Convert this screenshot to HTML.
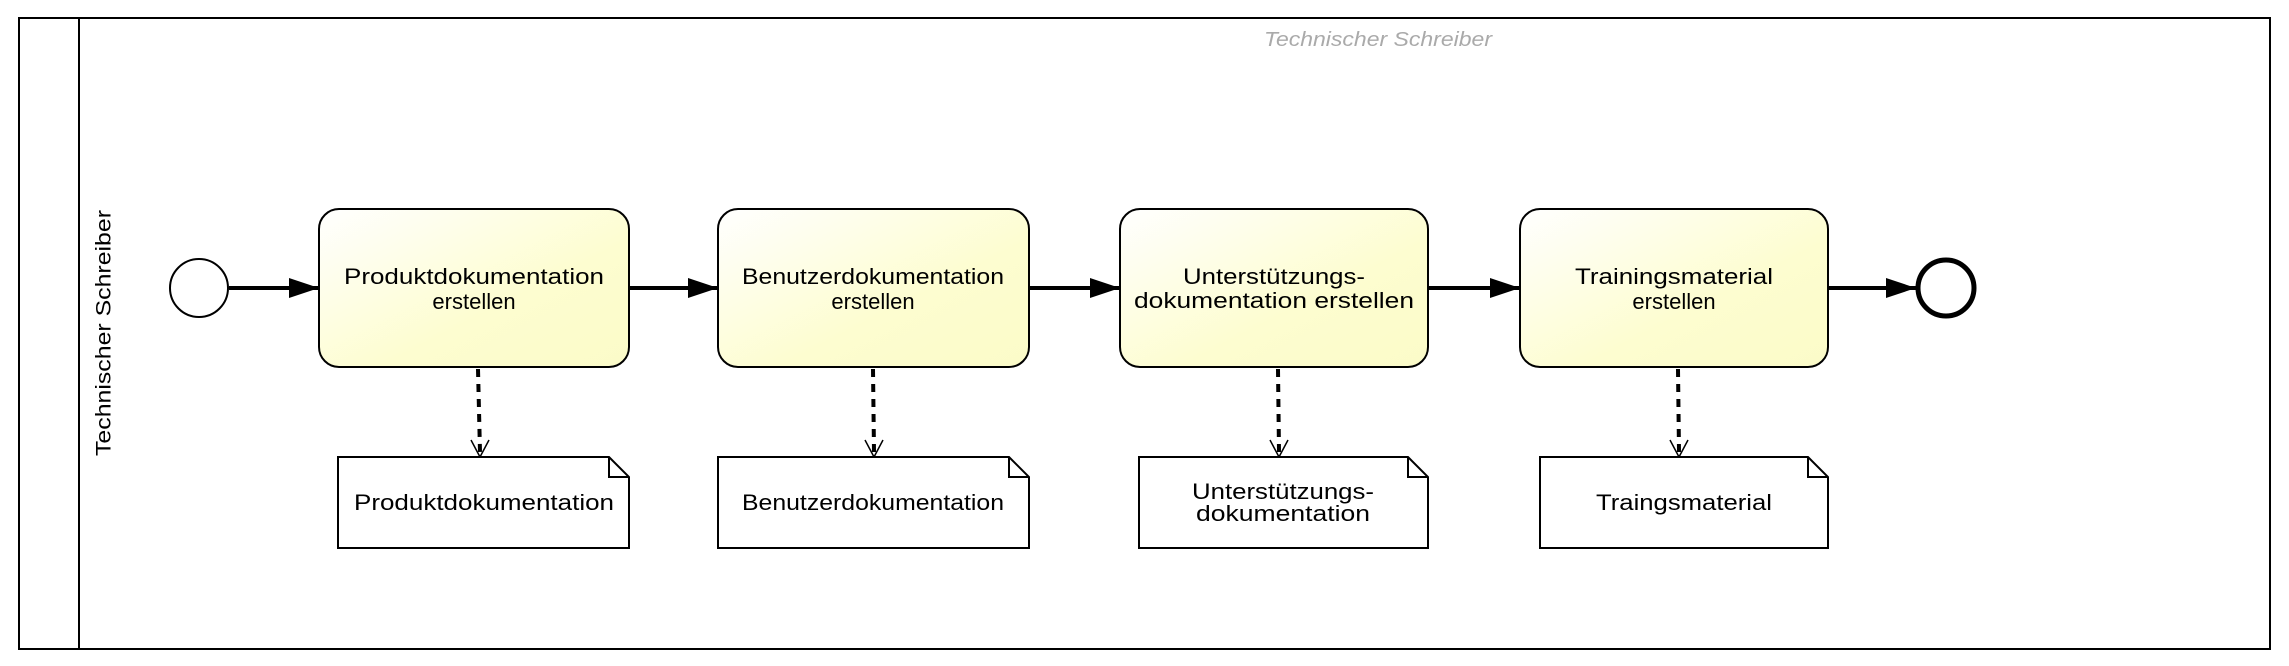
<!DOCTYPE html>
<html><head><meta charset="utf-8"><style>
html,body{margin:0;padding:0;background:#fff;}
svg{display:block;}
text{font-family:"Liberation Sans",sans-serif;}
</style></head><body>
<svg width="2289" height="666" viewBox="0 0 2289 666" xmlns="http://www.w3.org/2000/svg">
<defs>
<linearGradient id="g" x1="0" y1="0" x2="1" y2="1">
<stop offset="0" stop-color="#ffffff"/><stop offset="0.6" stop-color="#fdfdd0"/><stop offset="1" stop-color="#fbfbc8"/>
</linearGradient>
<marker id="ah" markerWidth="30" markerHeight="20" refX="30" refY="10" orient="auto" markerUnits="userSpaceOnUse">
<path d="M0,0 L30,10 L0,20 Z" fill="#000"/></marker>
</defs>
<rect x="19" y="18" width="2251" height="631" fill="#fff" stroke="#000" stroke-width="2"/>
<line x1="79" y1="18" x2="79" y2="649" stroke="#000" stroke-width="2"/>
<text x="105" y="333" font-size="21" text-anchor="middle" transform="rotate(-90 105 333)" dominant-baseline="middle" textLength="246" lengthAdjust="spacingAndGlyphs">Technischer Schreiber</text>
<text x="1378" y="46" font-size="20" font-style="italic" fill="#aaa" text-anchor="middle" textLength="228" lengthAdjust="spacingAndGlyphs">Technischer Schreiber</text>

<circle cx="199" cy="288" r="29" fill="#fff" stroke="#000" stroke-width="2"/>
<circle cx="1946" cy="288" r="28" fill="#fff" stroke="#000" stroke-width="5"/>

<g stroke="#000" stroke-width="4" fill="none">
<line x1="229" y1="288" x2="319" y2="288" marker-end="url(#ah)"/>
<line x1="629" y1="288" x2="718" y2="288" marker-end="url(#ah)"/>
<line x1="1029" y1="288" x2="1120" y2="288" marker-end="url(#ah)"/>
<line x1="1428" y1="288" x2="1520" y2="288" marker-end="url(#ah)"/>
<line x1="1828" y1="288" x2="1916" y2="288" marker-end="url(#ah)"/>
</g>

<g fill="url(#g)" stroke="#000" stroke-width="2">
<rect x="319" y="209" width="310" height="158" rx="20"/>
<rect x="718" y="209" width="311" height="158" rx="20"/>
<rect x="1120" y="209" width="308" height="158" rx="20"/>
<rect x="1520" y="209" width="308" height="158" rx="20"/>
</g>
<g font-size="22" text-anchor="middle">
<text x="474" y="284" textLength="260" lengthAdjust="spacingAndGlyphs">Produktdokumentation</text>
<text x="474" y="309">erstellen</text>
<text x="873" y="284" textLength="262" lengthAdjust="spacingAndGlyphs">Benutzerdokumentation</text>
<text x="873" y="309">erstellen</text>
<text x="1274" y="284" textLength="182" lengthAdjust="spacingAndGlyphs">Unterstützungs-</text>
<text x="1274" y="308" textLength="280" lengthAdjust="spacingAndGlyphs">dokumentation erstellen</text>
<text x="1674" y="284" textLength="198" lengthAdjust="spacingAndGlyphs">Trainingsmaterial</text>
<text x="1674" y="309">erstellen</text>
</g>

<g stroke="#000" stroke-width="4" stroke-dasharray="8,7" fill="none">
<line x1="478" y1="369" x2="480" y2="452"/>
<line x1="873" y1="369" x2="874" y2="452"/>
<line x1="1278" y1="369" x2="1279" y2="452"/>
<line x1="1678" y1="369" x2="1679" y2="452"/>
</g>
<g stroke="#000" stroke-width="1.5" fill="none">
<path d="M471,440 L480,457 L489,440"/>
<path d="M865,440 L874,457 L883,440"/>
<path d="M1270,440 L1279,457 L1288,440"/>
<path d="M1670,440 L1679,457 L1688,440"/>
</g>

<g fill="#fff" stroke="#000" stroke-width="2">
<path d="M338,457 H609 L629,477 V548 H338 Z"/><path d="M609,457 V477 H629" fill="none"/>
<path d="M718,457 H1009 L1029,477 V548 H718 Z"/><path d="M1009,457 V477 H1029" fill="none"/>
<path d="M1139,457 H1408 L1428,477 V548 H1139 Z"/><path d="M1408,457 V477 H1428" fill="none"/>
<path d="M1540,457 H1808 L1828,477 V548 H1540 Z"/><path d="M1808,457 V477 H1828" fill="none"/>
</g>
<g font-size="22" text-anchor="middle">
<text x="484" y="510" textLength="260" lengthAdjust="spacingAndGlyphs">Produktdokumentation</text>
<text x="873" y="510" textLength="262" lengthAdjust="spacingAndGlyphs">Benutzerdokumentation</text>
<text x="1283" y="499" textLength="182" lengthAdjust="spacingAndGlyphs">Unterstützungs-</text>
<text x="1283" y="521" textLength="174" lengthAdjust="spacingAndGlyphs">dokumentation</text>
<text x="1684" y="510" textLength="176" lengthAdjust="spacingAndGlyphs">Traingsmaterial</text>
</g>
</svg>
</body></html>
